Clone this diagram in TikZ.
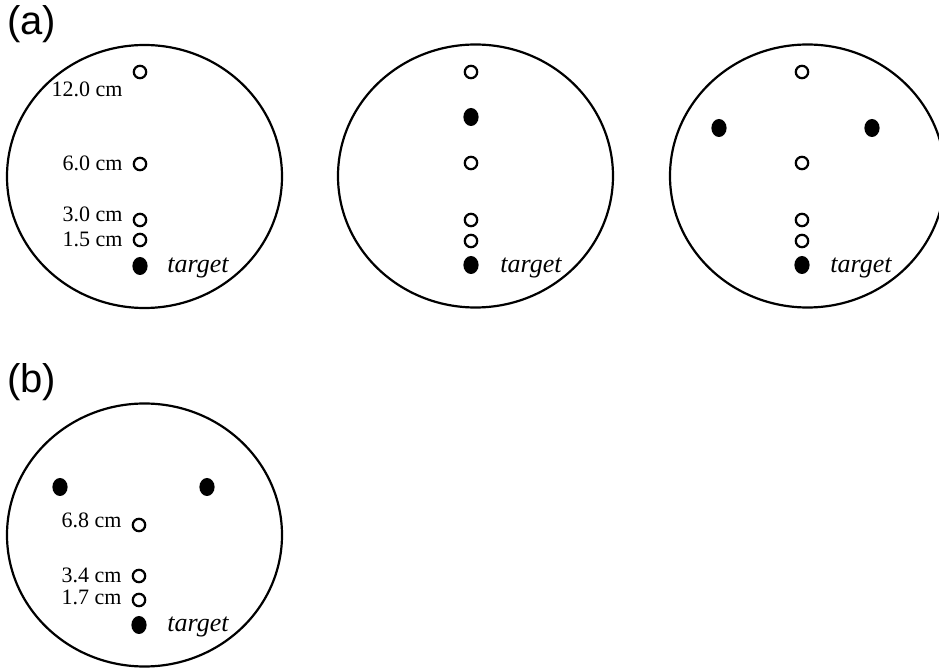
\documentclass[tikz,border=0pt]{standalone}
\usepackage{fontspec}
\setmainfont{Liberation Serif}
\newfontfamily\panelfont{Liberation Sans}
\usetikzlibrary{shapes.geometric}
\tikzset{
  arena/.style={draw, ellipse, line width=1.1pt, minimum width=137.5pt, minimum height=131.5pt, inner sep=0pt},
  opendot/.style={draw, circle, line width=1.1pt, minimum size=6.2pt, inner sep=0pt, fill=white},
  fulldot/.style={ellipse, fill=black, minimum width=7.6pt, minimum height=9pt, inner sep=0pt},
  dist/.style={anchor=base east, inner sep=0pt, font=\fontsize{11}{13}\selectfont},
  tgt/.style={anchor=base west, inner sep=0pt, font=\fontsize{13}{15}\selectfont\itshape},
  panel/.style={anchor=west, inner sep=0pt, font=\panelfont\fontsize{20}{23}\selectfont}
}
\begin{document}
\begin{tikzpicture}[x=0.5pt, y=-0.5pt]
\useasboundingbox (0,0) rectangle (939,668);
\clip (0,0) rectangle (939,668);
\fill[white] (0,0) rectangle (939,668);

% panel labels
\node[panel] (pa) at (7,24) {(a)};
\node[panel] (pb) at (7,382) {(b)};

% ---------- (a) circle 1 ----------
\node[arena] (c1) at (144.5,176.5) {};
\node[opendot] (c1d12) at (140,72) {};
\node[opendot] (c1d6) at (140,164) {};
\node[opendot] (c1d3) at (140,220) {};
\node[opendot] (c1d15) at (140,240) {};
\node[fulldot] (c1t) at (140,266) {};
\node[dist] (c1l12) at (123,97) {12.0 cm};
\node[dist] (c1l6) at (123,171) {6.0 cm};
\node[dist] (c1l3) at (123,222) {3.0 cm};
\node[dist] (c1l15) at (123,247) {1.5 cm};
\node[tgt] (c1lt) at (167,273) {target};

% ---------- (a) circle 2 ----------
\node[arena] (c2) at (475.5,176) {};
\node[opendot] (c2d12) at (471,72) {};
\node[fulldot] (c2f) at (471,117) {};
\node[opendot] (c2d6) at (471,163) {};
\node[opendot] (c2d3) at (471,220) {};
\node[opendot] (c2d15) at (471,241) {};
\node[fulldot] (c2t) at (471,265) {};
\node[tgt] (c2lt) at (500,273) {target};

% ---------- (a) circle 3 ----------
\node[arena] (c3) at (807.5,176) {};
\node[opendot] (c3d12) at (802,72) {};
\node[fulldot] (c3fl) at (719,128) {};
\node[fulldot] (c3fr) at (872,128) {};
\node[opendot] (c3d6) at (802,163) {};
\node[opendot] (c3d3) at (802,220) {};
\node[opendot] (c3d15) at (802,241) {};
\node[fulldot] (c3t) at (802,265) {};
\node[tgt] (c3lt) at (830,273) {target};

% ---------- (b) ----------
\node[arena] (cb) at (144.5,535) {};
\node[fulldot] (cbfl) at (60,487) {};
\node[fulldot] (cbfr) at (207,487) {};
\node[opendot] (cbd68) at (139,525) {};
\node[opendot] (cbd34) at (139,576) {};
\node[opendot] (cbd17) at (139,600) {};
\node[fulldot] (cbt) at (139,625) {};
\node[dist] (cbl68) at (122,528) {6.8 cm};
\node[dist] (cbl34) at (122,583) {3.4 cm};
\node[dist] (cbl17) at (122,605) {1.7 cm};
\node[tgt] (cblt) at (167,632) {target};
\end{tikzpicture}
\end{document}
